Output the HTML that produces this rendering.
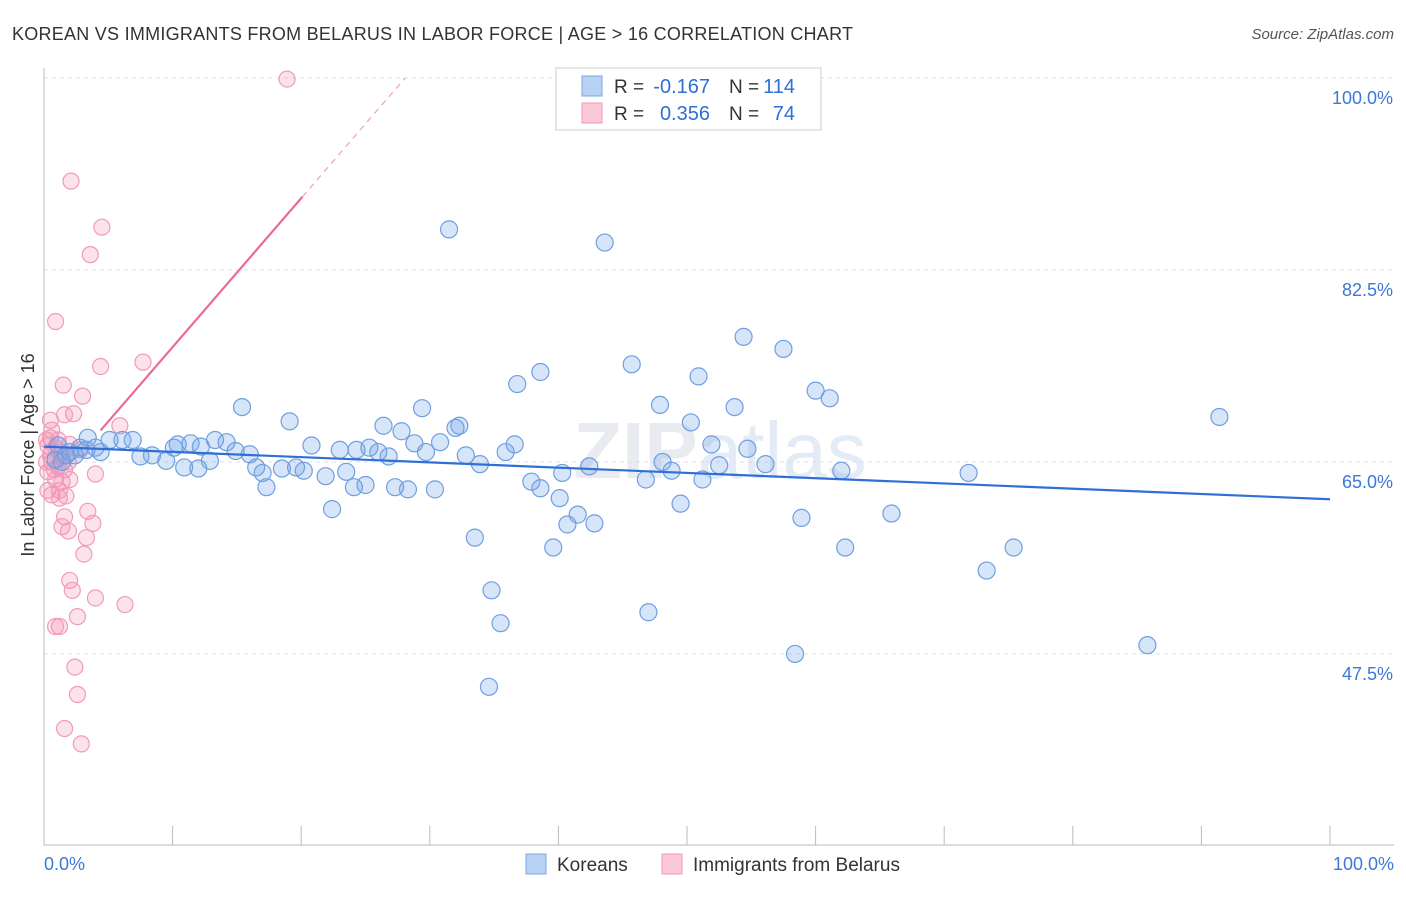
<!DOCTYPE html>
<html><head><meta charset="utf-8">
<style>
body{margin:0;background:#fff;font-family:"Liberation Sans",sans-serif;}
svg text{font-family:"Liberation Sans",sans-serif;}
</style></head>
<body>
<svg id="chart" width="1406" height="892" xmlns="http://www.w3.org/2000/svg">
<text x="12" y="40" font-size="18" fill="#333" textLength="841">KOREAN VS IMMIGRANTS FROM BELARUS IN LABOR FORCE | AGE &gt; 16 CORRELATION CHART</text>
<text x="1394" y="39" font-size="15" fill="#555" text-anchor="end" font-style="italic">Source: ZipAtlas.com</text>
<text x="720" y="478" font-size="80" fill="#e8ebef" text-anchor="middle" font-weight="bold">ZIP<tspan fill="#e3ebf6" font-weight="normal">atlas</tspan></text>
<g id="grid"></g>
<g id="marks"></g>
<text x="34" y="455" font-size="18" fill="#333" text-anchor="middle" transform="rotate(-90 34 455)">In Labor Force | Age &gt; 16</text>
<g>
<rect x="556" y="68" width="265" height="62" fill="#fff" stroke="#ccc"/>
<rect x="582" y="76" width="20" height="20" fill="#b8d2f5" stroke="#7aa6e0"/>
<rect x="582" y="103" width="20" height="20" fill="#fbc8d8" stroke="#f09ab8"/>
<text x="614" y="93" font-size="19" fill="#333">R =</text>
<text x="710" y="93" font-size="20" fill="#2f6fd6" text-anchor="end">-0.167</text>
<text x="729" y="93" font-size="19" fill="#333">N =</text>
<text x="795" y="93" font-size="20" fill="#2f6fd6" text-anchor="end">114</text>
<text x="614" y="120" font-size="19" fill="#333">R =</text>
<text x="710" y="120" font-size="20" fill="#2f6fd6" text-anchor="end">0.356</text>
<text x="729" y="120" font-size="19" fill="#333">N =</text>
<text x="795" y="120" font-size="20" fill="#2f6fd6" text-anchor="end">74</text>
</g>
<g>
<rect x="526" y="854" width="20" height="20" fill="#b8d2f5" stroke="#7aa6e0"/>
<text x="557" y="871" font-size="19" fill="#333">Koreans</text>
<rect x="662" y="854" width="20" height="20" fill="#fbc8d8" stroke="#f09ab8"/>
<text x="693" y="871" font-size="19" fill="#333">Immigrants from Belarus</text>
</g>
</svg>
<script>
const yTicks=[100,82.5,65,47.5];
const yTickLabels=["100.0%","82.5%","65.0%","47.5%"];
const xTickLabels=["0.0%","100.0%"];
const koreanX=[31.5,43.6,54.4,57.5,45.7,38.6,36.8,50.9,60.0,61.1,91.4,15.4,29.4,47.9,53.7,19.1,26.4,32.3,32.0,27.8,50.3,3.4,5.1,6.1,6.9,10.4,11.4,13.3,14.2,12.2,14.9,16.0,20.8,23.0,24.3,25.3,26.0,26.8,28.8,29.7,30.8,32.8,33.9,35.9,36.6,51.9,54.7,4.4,7.5,8.4,9.5,10.9,12.0,12.9,16.5,17.0,19.6,20.2,21.9,23.5,2.0,1.4,2.8,4.0,10.1,18.5,17.3,24.1,25.0,27.3,28.3,30.4,37.9,38.6,40.3,42.4,46.8,48.1,48.8,51.2,52.5,56.1,62.0,71.9,40.1,41.5,40.7,42.8,49.5,22.4,33.5,39.6,58.9,65.9,62.3,75.4,73.3,34.8,47.0,35.5,58.4,85.8,34.6,0.9,2.4,1.7,3.3,1.1];
const koreanY=[86.2,85.0,76.4,75.3,73.9,73.2,72.1,72.8,71.5,70.8,69.1,70.0,69.9,70.2,70.0,68.7,68.3,68.3,68.1,67.8,68.6,67.2,67.0,67.0,67.0,66.6,66.7,67.0,66.8,66.4,66.0,65.7,66.5,66.1,66.1,66.3,65.9,65.5,66.7,65.9,66.8,65.6,64.8,65.9,66.6,66.6,66.2,65.9,65.5,65.6,65.1,64.5,64.4,65.1,64.5,64.0,64.5,64.2,63.7,64.1,65.9,65.0,66.3,66.3,66.3,64.4,62.7,62.7,62.9,62.7,62.5,62.5,63.2,62.6,64.0,64.6,63.4,65.0,64.2,63.4,64.7,64.8,64.2,64.0,61.7,60.2,59.3,59.4,61.2,60.7,58.1,57.2,59.9,60.3,57.2,57.2,55.1,53.3,51.3,50.3,47.5,48.3,44.5,65.2,65.6,65.6,66.1,66.5];
const belarusX=[18.9,2.1,4.5,3.6,0.9,7.7,4.4,1.5,3.0,2.3,1.6,5.9,0.5,0.5,0.3,0.9,1.2,2.0,2.8,0.6,1.1,1.6,0.3,0.9,1.4,2.0,1.2,0.6,1.7,4.0,3.4,3.8,1.6,1.4,1.9,3.3,3.1,2.0,2.2,4.0,6.3,2.6,1.2,0.9,2.4,2.6,1.6,2.9,0.5,0.2,0.6,1.1,1.4,1.9,0.8,1.2,0.2,0.3];
const belarusY=[99.9,90.6,86.4,83.9,77.8,74.1,73.7,72.0,71.0,69.4,69.3,68.3,68.8,67.2,66.5,66.3,65.9,66.6,66.1,65.0,64.6,64.3,64.1,63.4,63.2,63.4,62.4,62.0,61.9,63.9,60.5,59.4,60.0,59.1,58.7,58.1,56.6,54.2,53.3,52.6,52.0,50.9,50.0,50.0,46.3,43.8,40.7,39.3,65.6,67.0,67.9,67.0,65.4,65.0,64.3,61.7,65.0,62.4];
const koreanTrend=[66.4,61.6];
const belarusTrend=[61.9,1.357];

const NS="http://www.w3.org/2000/svg";
const X=v=>44+v*12.86;
const Y=v=>78+(100-v)*10.97;
function mk(tag,attrs,parent){const e=document.createElementNS(NS,tag);for(const k in attrs)e.setAttribute(k,attrs[k]);parent.appendChild(e);return e;}
const grid=document.getElementById('grid'),marks=document.getElementById('marks');
yTicks.forEach((t,i)=>{
  const l=mk('line',{x1:44,x2:1394,y1:Y(t),y2:Y(t),stroke:'#dde',"stroke-dasharray":'4,4'},grid);
  
  
  const tx=mk('text',{x:1393,y:Y(t)+26,"font-size":18,fill:'#3b78d8',"text-anchor":'end'},grid);
  tx.textContent=yTickLabels[i];
  
  
});
const ax=mk('line',{x1:44,x2:44,y1:68,y2:845,stroke:'#bbb'},grid);


const bx=mk('line',{x1:44,x2:1394,y1:845,y2:845,stroke:'#bbb'},grid);


for(let i=0;i<=10;i++){
  const t=mk('line',{x1:X(i*10),x2:X(i*10),y1:826,y2:845,stroke:'#bbb'},grid);
  
  
}
const xl0=mk('text',{x:44,y:870,"font-size":18,fill:'#3b78d8'},grid);xl0.textContent=xTickLabels[0];


const xl1=mk('text',{x:1394,y:870,"font-size":18,fill:'#3b78d8',"text-anchor":'end'},grid);xl1.textContent=xTickLabels[1];



belarusX.forEach((x,i)=>{
  const c=mk('circle',{cx:X(x),cy:Y(belarusY[i]),r:8,fill:'rgba(245,140,175,0.25)',stroke:'#f29ab9',"stroke-width":1.2},marks);
  
  
});
koreanX.forEach((x,i)=>{
  const c=mk('circle',{cx:X(x),cy:Y(koreanY[i]),r:8.5,fill:'rgba(110,160,235,0.28)',stroke:'#6f9fe0',"stroke-width":1.2},marks);
  
  
});
const kt=mk('line',{x1:X(0),y1:Y(koreanTrend[0]),x2:X(100),y2:Y(koreanTrend[1]),stroke:'#2f6fd6',"stroke-width":2.2},marks);


const bf=x=>belarusTrend[0]+belarusTrend[1]*x;
const bt=mk('line',{x1:X(4.4),y1:Y(bf(4.4)),x2:X(20.1),y2:Y(bf(20.1)),stroke:'#ec6a97',"stroke-width":2.2},marks);


const xe=(100-belarusTrend[0])/belarusTrend[1];
const bd=mk('line',{x1:X(20.1),y1:Y(bf(20.1)),x2:X(xe),y2:Y(100),stroke:'#f0a0bc',"stroke-width":1.2,"stroke-dasharray":'6,5'},marks);


</script>
</body></html>
